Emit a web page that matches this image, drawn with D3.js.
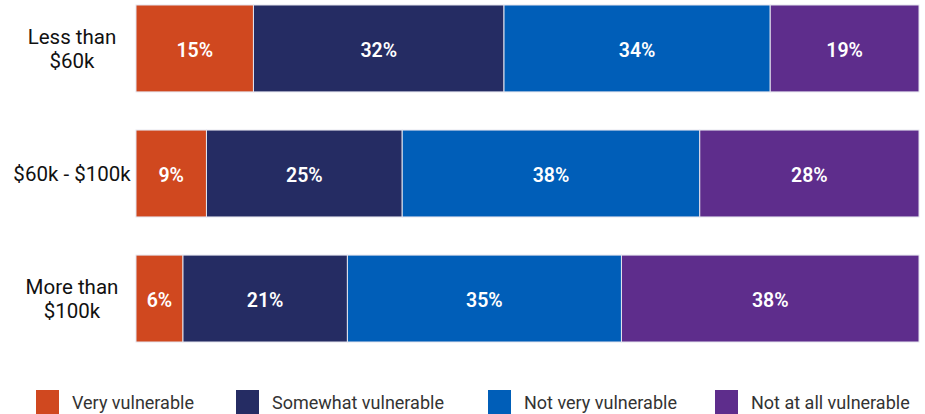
<!DOCTYPE html>
<html>
<head>
<meta charset="utf-8">
<script src="https://cdn.jsdelivr.net/npm/d3@7"></script>
<style>
  html, body { margin: 0; padding: 0; background: #fff; }
  svg { display: block; font-family: Roboto, "Open Sans", sans-serif; }
</style>
</head>
<body>
<svg id="chart" width="925" height="414"></svg>
<script>
// Income groups and their share in each vulnerability level (percent)
const categories = [["Less than", "$60k"], ["$60k - $100k"], ["More than", "$100k"]];
const series = ["Very vulnerable", "Somewhat vulnerable", "Not very vulnerable", "Not at all vulnerable"];
const veryVulnerable = [15, 9, 6];
const somewhatVulnerable = [32, 25, 21];
const notVeryVulnerable = [34, 38, 35];
const notAtAllVulnerable = [19, 28, 38];
const colors = ["#D0481F", "#252C63", "#005EB8", "#5E2D8C"];

const valuesBySeries = [veryVulnerable, somewhatVulnerable, notVeryVulnerable, notAtAllVulnerable];
const rows = categories.map((c, i) => {
  const r = { key: i };
  series.forEach((s, j) => { r[s] = valuesBySeries[j][i]; });
  return r;
});
const stacked = d3.stack().keys(series)(rows);

const svg = d3.select("#chart");
const x = d3.scaleLinear().domain([0, 100]).range([136, 919]);
const y = d3.scaleBand().domain(d3.range(categories.length)).range([5, 342]).paddingInner(0.305).paddingOuter(0);

const layers = svg.append("g").selectAll("g").data(stacked).join("g")
  .attr("fill", (d, i) => colors[i]);

layers.selectAll("rect").data(d => d).join("rect")
  .attr("x", d => x(d[0]))
  .attr("y", (d, i) => y(i))
  .attr("width", d => x(d[1]) - x(d[0]))
  .attr("height", y.bandwidth())
  .attr("stroke", "#e4e4ee")
  .attr("stroke-width", 1);

layers.selectAll("text").data(d => d.map(v => ({ v, val: v[1] - v[0] }))).join("text")
  .attr("x", d => (x(d.v[0]) + x(d.v[1])) / 2)
  .attr("y", (d, i) => y(i) + y.bandwidth() / 2 + 1.5)
  .attr("dy", "0.36em")
  .attr("text-anchor", "middle")
  .attr("fill", "#fff")
  .attr("font-size", 19.5)
  .attr("font-weight", 600)
  .text(d => d.val + "%");

// Category labels on the left
const labels = svg.append("g").selectAll("text").data(categories).join("text")
  .attr("text-anchor", "middle")
  .attr("fill", "#111")
  .attr("font-size", 20.5)
  .attr("x", 72)
  .attr("y", (d, i) => y(i) + y.bandwidth() / 2);
labels.each(function(lines) {
  const t = d3.select(this);
  const n = lines.length;
  lines.forEach((line, k) => {
    t.append("tspan")
      .attr("x", 72)
      .attr("dy", k === 0 ? ((0.36 - (n - 1) * 0.58) + "em") : "1.16em")
      .text(line);
  });
});

// Legend
const legendX = [36, 236, 488, 715];
const legend = svg.append("g").selectAll("g").data(series).join("g")
  .attr("transform", (d, i) => `translate(${legendX[i]},390)`);
legend.append("rect").attr("width", 23).attr("height", 24).attr("fill", (d, i) => colors[i]);
legend.append("text")
  .attr("x", 36).attr("y", 13).attr("dy", "0.36em")
  .attr("font-size", 18).attr("fill", "#333")
  .text(d => d);
</script>
</body>
</html>
